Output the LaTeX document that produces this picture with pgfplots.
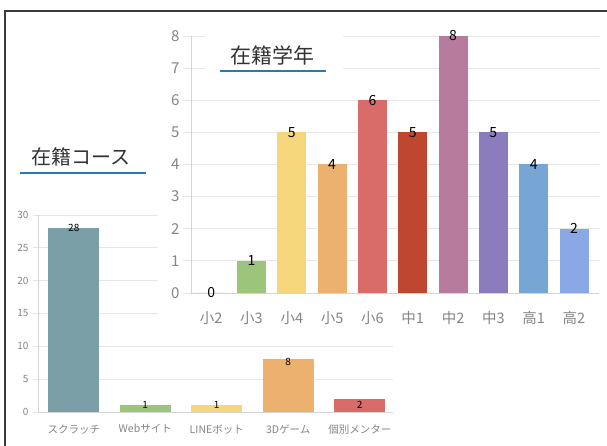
\documentclass[border=0pt]{standalone}
\usepackage{fontspec}
\setmainfont{Noto Sans CJK JP}
\usepackage{pgfplots}
\pgfplotsset{compat=1.18}

\definecolor{cTeal}{HTML}{7B9FA7}
\definecolor{cGreen}{HTML}{9CC47B}
\definecolor{cYellow}{HTML}{F6D67A}
\definecolor{cOrange}{HTML}{ECB16F}
\definecolor{cSalmon}{HTML}{D96C69}
\definecolor{cDarkRed}{HTML}{C0472F}
\definecolor{cMauve}{HTML}{B77B9E}
\definecolor{cPurple}{HTML}{8B7CBD}
\definecolor{cBlue}{HTML}{77A6D5}
\definecolor{cLightBlue}{HTML}{8AA7E6}
\definecolor{uline}{HTML}{2B78B0}
\definecolor{gridc}{HTML}{E6E6E6}
\definecolor{axisc}{HTML}{D4D4D4}
\definecolor{tickc}{HTML}{858585}
\definecolor{framec}{HTML}{3A3A3A}

\begin{document}
\begin{tikzpicture}[x=1pt,y=1pt]
\useasboundingbox (0,0) rectangle (607,446);
\fill[white] (0,0) rectangle (607,446);

% lower chart: courses
\begin{axis}[
  at={(38pt,34pt)}, anchor=south west, scale only axis,
  width=355pt, height=197pt,
  xmin=-0.5, xmax=4.465, ymin=0, ymax=30,
  ytick={0,5,...,30}, xtick={0,1,2,3,4},
  xticklabels={スクラッチ,Webサイト,LINEボット,3Dゲーム,個別メンター},
  axis x line*=bottom, axis y line*=left,
  axis line style={draw=axisc, line width=0.8pt},
  ymajorgrids, major grid style={draw=gridc, line width=0.8pt},
  tick align=outside, major tick length=5pt,
  xtick style={draw=none}, ytick style={draw=gridc, line width=0.8pt},
  /pgf/number format/assume math mode=true,
  yticklabel style={font=\fontsize{10}{12}\selectfont, text=tickc, xshift=-1pt},
  xticklabel style={font=\fontsize{10.5}{12}\selectfont, text=tickc, yshift=-4pt},
  nodes near coords,
  every node near coord/.append style={anchor=center, font=\fontsize{10}{12}\selectfont, text=black},
  clip=false,
]
\addplot[ybar, bar width=0.71, fill=cTeal, draw=none] coordinates {(0,28)};
\addplot[ybar, bar width=0.71, fill=cGreen, draw=none] coordinates {(1,1)};
\addplot[ybar, bar width=0.71, fill=cYellow, draw=none] coordinates {(2,1)};
\addplot[ybar, bar width=0.71, fill=cOrange, draw=none, every node near coord/.append style={yshift=-2pt}] coordinates {(3,8)};
\addplot[ybar, bar width=0.71, fill=cSalmon, draw=none, every node near coord/.append style={yshift=-6.5pt}] coordinates {(4,2)};
\end{axis}

\node[font=\fontsize{20}{23}\selectfont, text=black!80] at (81,289) {在籍コース};
\draw[uline, line width=2.5pt] (20,273) -- (146,273);

% white panel of the upper chart
\fill[white] (158,110) rectangle (607,432);

% upper chart: school years
\begin{axis}[
  at={(191pt,153pt)}, anchor=south west, scale only axis,
  width=408pt, height=257pt,
  xmin=-0.5, xmax=9.62, ymin=0, ymax=8,
  ytick={0,1,...,8}, xtick={0,1,...,9},
  xticklabels={小2,小3,小4,小5,小6,中1,中2,中3,高1,高2},
  axis x line*=bottom, axis y line*=left,
  axis line style={draw=axisc, line width=0.8pt},
  ymajorgrids, major grid style={draw=gridc, line width=0.8pt},
  tick align=outside, major tick length=8pt,
  xtick style={draw=none}, ytick style={draw=gridc, line width=0.8pt},
  /pgf/number format/assume math mode=true,
  yticklabel style={font=\fontsize{15}{17}\selectfont, text=tickc},
  xticklabel style={font=\fontsize{14.5}{17}\selectfont, text=tickc, yshift=-7pt},
  nodes near coords,
  every node near coord/.append style={anchor=center, font=\fontsize{14}{16}\selectfont, text=black},
  clip=false,
]
\addplot[ybar, bar width=0.72, fill=cGreen, draw=none] coordinates {(0,0)};
\addplot[ybar, bar width=0.72, fill=cGreen, draw=none] coordinates {(1,1)};
\addplot[ybar, bar width=0.72, fill=cYellow, draw=none] coordinates {(2,5)};
\addplot[ybar, bar width=0.72, fill=cOrange, draw=none] coordinates {(3,4)};
\addplot[ybar, bar width=0.72, fill=cSalmon, draw=none] coordinates {(4,6)};
\addplot[ybar, bar width=0.72, fill=cDarkRed, draw=none] coordinates {(5,5)};
\addplot[ybar, bar width=0.72, fill=cMauve, draw=none] coordinates {(6,8)};
\addplot[ybar, bar width=0.72, fill=cPurple, draw=none] coordinates {(7,5)};
\addplot[ybar, bar width=0.72, fill=cBlue, draw=none] coordinates {(8,4)};
\addplot[ybar, bar width=0.72, fill=cLightBlue, draw=none] coordinates {(9,2)};
\end{axis}

\fill[white] (205,364) rectangle (343,418);
\node[font=\fontsize{21}{24}\selectfont, text=black!80] at (272,391) {在籍学年};
\draw[uline, line width=2.5pt] (220,375) -- (326,375);

% frame
\draw[framec, line width=2.5pt] (5,0) -- (5,435) -- (607,435);
\end{tikzpicture}
\end{document}
